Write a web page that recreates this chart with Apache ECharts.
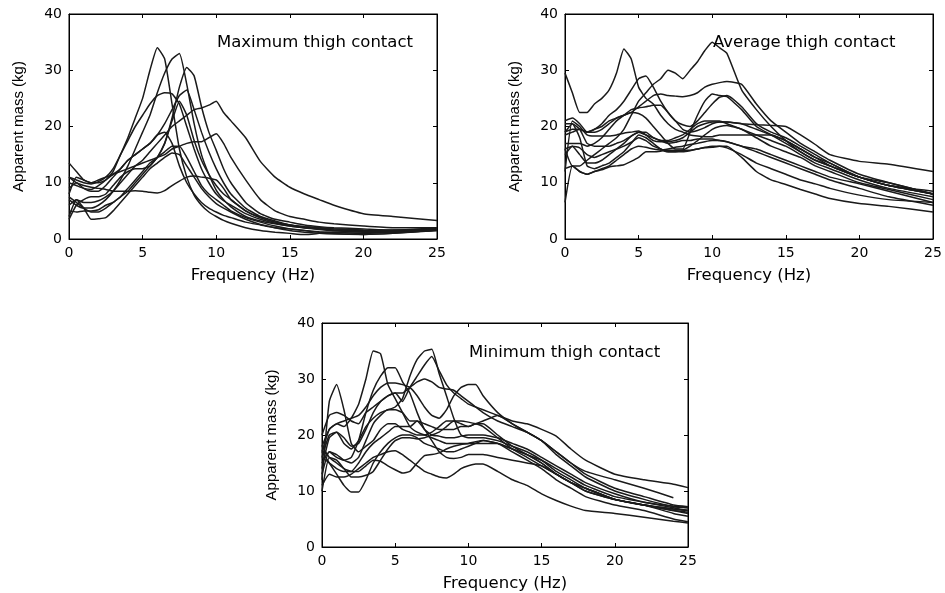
<!DOCTYPE html>
<html>
<head>
<meta charset="utf-8">
<script src="https://cdn.jsdelivr.net/npm/echarts@6/dist/echarts.min.js"></script>
<style>
html, body { margin: 0; padding: 0; background: #fff; }
#chart { width: 945px; height: 593px; }
</style>
</head>
<body>
<div id="chart"></div>
<script>
// frequency grid (Hz) for the max / average panels
var freq = [0,0.5,1,1.5,2,2.5,3,3.5,4,4.5,5,5.5,6,6.5,7,7.5,8,8.5,9,9.5,10,10.5,11,12,13,14,15,16,17,18,20,22,25];
// the minimum panel also has a point at 24 Hz (one curve stops there)
var freqMin = [0,0.5,1,1.5,2,2.5,3,3.5,4,4.5,5,5.5,6,6.5,7,7.5,8,8.5,9,9.5,10,10.5,11,12,13,14,15,16,17,18,20,22,24,25];

var xTicks = [0, 5, 10, 15, 20, 25];
var yTicks = [0, 10, 20, 30, 40];

// Maximum thigh contact (kg)
var max1  = [10,9.5,9,8.8,9.5,10.5,12,15,18,21.5,25,30,34,32,24,16,11,7.8,6,4.8,4,3.3,2.8,2,1.5,1.2,1,0.8,1,1.2,1.3,1.5,2];
var max2  = [7,6,5.5,5.5,6,7,8.5,10.5,13,16,19,22,26,29.5,32,33,27.5,20.5,15,11.5,8.7,7,5.7,4,3.2,2.7,2.3,2,1.8,1.6,1.5,1.5,1.8];
var max3  = [5,4.8,5,5,5.2,6,6.5,7.5,8.5,10,11.5,13,14.5,17,21.5,27,30.5,29,23.5,19,15.8,12.5,10,6.5,4.5,3.5,3,2.5,2.2,2,1.8,1.6,1.8];
var max4  = [8,11,10.5,10,10,10.5,11.5,12.5,14,15,16,17,18.5,20.5,23,25.5,26.5,23,19,15.5,12.5,10,8,5.5,4,3.2,2.5,2.2,2,1.8,1.5,1.5,1.7];
var max5  = [11,10.5,10,9.8,10.2,11,12.5,15,17.5,20,22,24,25.5,26,25.8,24,20,16,12.5,10,8,6.8,6,4.5,3.5,2.8,2.3,2,1.8,1.5,1.2,1.2,1.5];
var max6  = [6,7,6.5,6.5,6.8,7.5,8.5,10,11.5,13,14,15.5,17,18.5,20,21,22,23,23.3,23.8,24.5,22.5,21,18,13.8,11,9.2,8,7,6,4.5,4,3.3];
var max7  = [13.5,12,10.5,10,10.5,11,11.5,12,12.5,13,13.5,14,14.5,15,16,16.5,17,17.3,17.3,18,18.7,17,14.5,10.5,7,5,4,3.5,3,2.7,2.3,2,2];
var max8  = [9,10,9,8.5,8.5,9.5,11,12.5,14,15,16,17,18.5,19,17,13,10,8,6.5,5.5,4.8,4.2,3.8,3,2.5,2,1.8,1.5,1.3,1.2,1,1.2,1.6];
var max9  = [7.5,6.5,5.5,4.8,4.8,5.5,6.5,7.5,9,10.5,12,13.5,14.5,15.5,16.5,16.5,14.5,12,9.5,8,7,6,5,3.8,3,2.3,1.8,1.5,1.2,1,0.8,1,1.5];
var max10 = [4,7,5.5,3.5,3.6,3.8,5,6.5,8,9.5,11,12.5,13.5,14.5,15.3,15,13,11,9,7.5,6.3,5.5,4.8,3.5,2.6,2,1.5,1.2,1,0.9,0.8,1,1.6];
var max11 = [11,10,9.5,9.2,9,8.8,8.5,8.5,8.5,8.6,8.5,8.3,8.2,8.6,9.5,10.3,11,11.2,11,10.8,10.5,9,7,5,3.8,3,2.5,2.2,2,1.8,1.6,1.5,1.8];
var max12 = [3.5,6,7,7.5,7.5,8,9.5,11,12,12.5,12.5,13,14.5,17,21,24.5,22,17.5,14,11.5,9.5,8,7,5,3.8,3,2.5,2,1.7,1.5,1.3,1.3,1.8];

// Average thigh contact (kg)
var avg1  = [29.5,26,22.5,22.5,24,25,26.5,29.5,33.8,32,27,25,24,22,20.5,19.5,19,18.5,18.3,18.2,18.2,18.5,18.5,18.5,18.5,18.5,17.5,16,14.5,13,11,9.5,8];
var avg2  = [16,13,13,14,15,16,17,18,19.5,22,24.5,26,27.5,28.5,30,29.5,28.5,30,31.5,33.5,35,34,33,26.5,23,20,17.5,15.5,14,13,11,9.5,8];
var avg3  = [18.5,19,19.5,19,19.5,20.5,22,23,24.5,26.5,28.5,29,27,24.5,22.5,21,20.3,20,21,22.5,24,25.2,25.5,23.5,20.5,19,18,16.5,15,13.5,11,9.5,8.5];
var avg4  = [19,19.5,19.5,19,19.5,20,21,21.5,22,22.5,23.5,24.5,25.5,25.8,25.5,25.4,25.3,25.5,26,27,27.5,27.8,28,27.5,24,21,19,17,15.5,14,11.5,10,8];
var avg5  = [21,21.5,20.5,19,19,19.5,20.5,21.5,22,22.5,22.3,21.5,20,18.5,17,16,16,19,22,24.5,25.8,25.5,25.3,23,20,18.5,17,15.5,14,13,11,9.5,8];
var avg6  = [17,17,17,16.5,17,18,19.5,21,22,23,23.3,23.5,23.8,23.8,22.5,21,19.5,19,19.3,19.8,20.5,20.8,20.8,20.5,19.5,18.5,17.5,16,14.5,13.5,11,10,8];
var avg7  = [12,21,20,18.5,18.3,18.3,18.3,18.5,18.8,19,19.2,18.5,17.5,17.3,17.3,17.5,18,19,20,20.5,20.8,20.8,20.8,20.5,20.3,20.2,20,18.5,16.8,15,13.8,13.3,12];
var avg8  = [15,16.5,15,13.5,13.5,14,15,16,17,18.3,19,18.5,18,17.5,17.5,18,18.5,19.5,20.5,21,21,21,20.5,19.5,18.5,17.5,16.5,15,13.5,12.5,10.5,9,7.5];
var avg9  = [16,16.5,16.2,15,14.5,15,15.5,16,16.5,17.2,18,17.5,16.5,16,15.5,15.5,15.8,16.5,17.5,18.5,19.5,20,20.2,19.5,18,16.5,15.5,14.5,13,12,10,8.8,7];
var avg10 = [6.5,13,12,11.5,12,12.3,12.8,13,13.2,13.8,14.5,15.5,15.5,15.6,15.8,15.8,15.8,15.8,16,16.2,16.3,16.5,16.5,14.5,12,10.5,9.7,8.8,8,7.2,6.3,5.8,4.8];
var avg11 = [12.5,13,12,11.5,12,12.5,13,14,15,16,16.5,16.3,16,15.8,16,16.3,16.5,16.8,17,17.3,17.5,17.5,17.3,16.5,15.5,14.5,13.5,12.5,11.5,10.5,9,7.5,6];
var avg12 = [20.5,20.5,19.5,17,16.5,16.5,16.5,17,17.5,18.3,19,19,18,17.5,17,17.2,17.5,17.5,17.8,17.8,17.8,17.5,17.3,16.5,16,15,14,13,12,11,9.8,8.5,6.5];
var avg13 = [19,20.5,18,13,12.5,13,13.5,14.5,15.5,17,18.5,18,17,16,15.5,15.5,15.5,15.7,16,16.3,16.5,16.5,16.2,15,13.5,12.5,11.5,10.5,9.8,9,7.8,7,6.5];

// Minimum thigh contact (kg)
var min1  = [12,26,29,24.5,18.5,17,18,19,21,22,22,21,20.5,20,20,20.5,21.5,22.5,22.5,22,21.5,22,22,20,18,16.5,15,13,11.5,10.5,8.5,7.5,6.5,6];
var min2  = [17,21,22,21.5,23,25.5,30,35,34.5,29,26.5,24,21.5,20.5,20,19.5,19,18.5,18.5,18.5,18.5,18.5,18.5,18.5,17.5,16.5,15,13,11.5,10,8.5,7.5,6.8,6.5];
var min3  = [13,17,16,15.5,16,19,24,28,30.5,32,32,29.5,27.5,24,21,20,19.8,19.5,19.5,19.8,20,20,20,19.5,18.5,17.5,16,14.5,13,11.5,9.5,8,7.3,7];
var min4  = [16,20,20.5,18.5,17.5,19,21.5,23,24,24.5,25,26.5,30.5,33.5,35,35.3,31,27,23,20,19.5,19.5,19.5,19,18,17,15.5,13.5,12,10.5,8.5,7.5,6.8,6.5];
var min5  = [20,23.5,24,23.5,22.5,22,24,25,26,27,27.5,26,28.5,30.5,32.5,34,31.5,29,27.5,26.5,25.5,25,24.5,23.5,22.5,22,21,19.8,17.5,15.5,13,12,11.2,10.6];
var min6  = [14,19.5,20.5,19.5,18,18.5,21,24,26,27,27.5,27.5,28.5,29.5,30,29.5,28.5,28.2,28,27,26,25,24,22.5,21.5,20.5,19,17,15,13.5,12,10.5,8.8,null];
var min7  = [18,21,22,22.5,23,23.5,25,27,28.5,29.3,29.3,29,28.5,27,25,23.5,23,24.5,27,28.5,29,29,27,24,22,20.5,19,17,15,13,10.5,9,7.5,7.2];
var min8  = [15,17,16.5,15.5,15,16,19,22,23.5,24.5,24.5,24,22.5,22.5,22,21.5,21,21,21,21.5,21.5,22,22.5,23.5,22,20.5,19,16.5,14.5,12.5,10,8.5,7.2,7];
var min9  = [18,16,15,14,13.5,15,17,18.5,19.5,20.5,21.5,21.5,21.5,22.5,21,19,17,16,15.8,16,16.5,16.5,16.5,16,15.5,15,14.5,13,11.5,10,8.5,7.5,6.5,6.2];
var min10 = [16,15,14,13.5,13.5,13.5,14.5,15.5,15.3,14.5,13.8,13.2,13.5,15,16.3,16.5,16.8,17.5,18,18.3,18.5,18.8,19,18.5,17.5,16.5,15.5,14,12.5,11,9,8,7,6.5];
var min11 = [17,15,13,11,9.8,9.8,12,15,17,18.5,19.5,20,20,19.5,18.5,18,17.5,17,17,17.5,18,18.5,19,18.5,17,15.5,14,12,10.5,9,7.5,6.5,5,4.5];
var min12 = [11,13,12.5,12.5,13,14,15,16,16.5,17,17.2,16.5,15.5,14.5,13.5,13,12.5,12.3,13,14,14.5,14.8,14.8,13.5,12,11,9.5,8.3,7.3,6.5,6,5.3,4.6,4.3];
var min13 = [10,16,15.5,14,12.5,12.5,12.8,13.5,15.5,17.5,19,19.5,19.5,19.3,19.5,20,20.5,21.5,22.5,22.5,22.3,22,21.5,19.5,17.5,16,14.5,13,11.5,10.5,8.5,7.5,6,5.5];

var panelTitles = ['Maximum thigh contact', 'Average thigh contact', 'Minimum thigh contact'];
var panelCurves = [
    [max1,max2,max3,max4,max5,max6,max7,max8,max9,max10,max11,max12],
    [avg1,avg2,avg3,avg4,avg5,avg6,avg7,avg8,avg9,avg10,avg11,avg12,avg13],
    [min1,min2,min3,min4,min5,min6,min7,min8,min9,min10,min11,min12,min13]
];
var panelFreq = [freq, freq, freqMin];

var grids = [
    {left: 69, top: 14, width: 368, height: 225},
    {left: 565, top: 14, width: 368, height: 225},
    {left: 322, top: 323, width: 366, height: 225}
];
var titlePos = [[217, 34], [713, 34], [469, 344]];

var font = 'DejaVu Sans';

function xAxisFor(g, top) {
    return {
        type: 'value', gridIndex: g, position: top ? 'top' : 'bottom',
        min: xTicks[0], max: xTicks[xTicks.length - 1], interval: xTicks[1] - xTicks[0],
        axisLine: {show: true, onZero: false, lineStyle: {color: '#000', width: 1}},
        axisTick: {show: true, inside: true, length: 4, lineStyle: {color: '#000'}},
        axisLabel: {show: !top, color: '#000', fontFamily: font, fontSize: 14, margin: 7},
        splitLine: {show: false},
        name: top ? '' : 'Frequency (Hz)',
        nameLocation: 'middle', nameGap: 28,
        nameTextStyle: {color: '#000', fontFamily: font, fontSize: 16.5}
    };
}
function yAxisFor(g, right) {
    return {
        type: 'value', gridIndex: g, position: right ? 'right' : 'left',
        min: yTicks[0], max: yTicks[yTicks.length - 1], interval: yTicks[1] - yTicks[0],
        axisLine: {show: true, onZero: false, lineStyle: {color: '#000', width: 1}},
        axisTick: {show: true, inside: true, length: 4, lineStyle: {color: '#000'}},
        axisLabel: {show: !right, color: '#000', fontFamily: font, fontSize: 14, margin: 7},
        splitLine: {show: false},
        name: right ? '' : 'Apparent mass (kg)',
        nameLocation: 'middle', nameRotate: 90, nameGap: 43,
        nameTextStyle: {color: '#000', fontFamily: 'Liberation Sans', fontSize: 15}
    };
}

var xAxes = [], yAxes = [], series = [], titles = [];
grids.forEach(function (g, i) {
    xAxes.push(xAxisFor(i, false), xAxisFor(i, true));
    yAxes.push(yAxisFor(i, false), yAxisFor(i, true));
    titles.push({
        text: panelTitles[i], left: titlePos[i][0], top: titlePos[i][1], padding: 0,
        textStyle: {color: '#000', fontFamily: font, fontSize: 16.5, fontWeight: 'normal'}
    });
    var f = panelFreq[i];
    panelCurves[i].forEach(function (vals) {
        series.push({
            type: 'line', xAxisIndex: 2 * i, yAxisIndex: 2 * i,
            data: f.map(function (x, k) { return [x, vals[k]]; }),
            showSymbol: false, symbol: 'none', smooth: 0.15,
            lineStyle: {color: '#1a1a1a', width: 1.5},
            silent: true, clip: true
        });
    });
});

var chart = echarts.init(document.getElementById('chart'), null, {renderer: 'canvas'});
chart.setOption({
    animation: false,
    backgroundColor: '#fff',
    title: titles,
    grid: grids.map(function (g) {
        return {left: g.left, top: g.top, width: g.width, height: g.height,
                show: true, borderColor: '#000', borderWidth: 1, backgroundColor: 'transparent'};
    }),
    xAxis: xAxes,
    yAxis: yAxes,
    series: series
});
</script>
</body>
</html>
